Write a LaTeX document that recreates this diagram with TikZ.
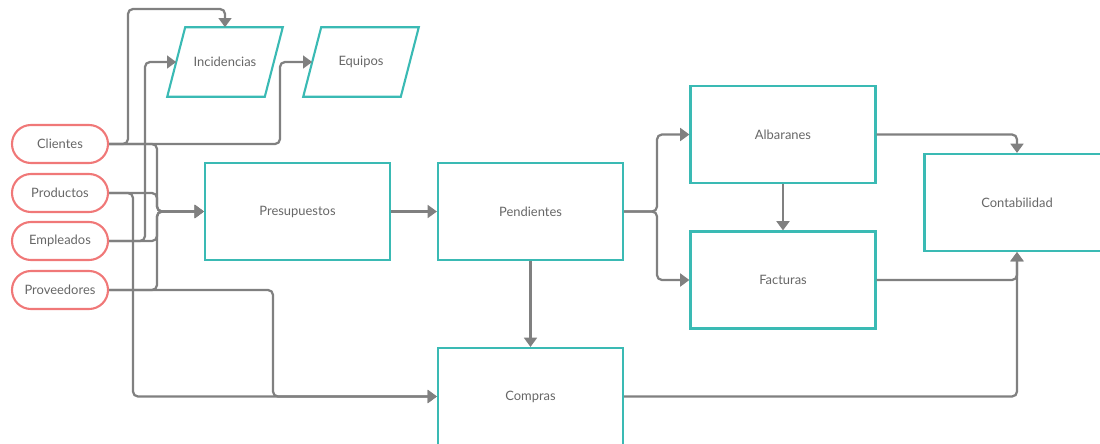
\documentclass[tikz,border=0pt]{standalone}
\usepackage{fontspec}
\setmainfont{Lato}
\usepackage{tikz}
\usetikzlibrary{shapes,arrows.meta,positioning,calc}
\definecolor{boxTeal}{RGB}{58, 186, 180}
\definecolor{pillRed}{RGB}{240, 120, 120}
\definecolor{lineGray}{RGB}{128, 128, 128}
\definecolor{textGray}{RGB}{102, 102, 102}

\begin{document}
\begin{tikzpicture}[x=0.025cm,y=-0.025cm,
                source/.style={draw=pillRed,line width=1.5pt,rounded corners=0.475cm,
                              minimum width=2.4cm,minimum height=0.95cm,inner sep=0pt},
                process/.style={draw=boxTeal,line width=1.5pt,
                              minimum width=4.625cm,minimum height=2.425cm,inner sep=0pt},
                datain/.style={minimum width=2.425cm,minimum height=1.725cm,inner sep=0pt},
                slanted/.style={draw=boxTeal,line width=1.5pt,line join=miter},
                link/.style={draw=lineGray,line width=1.6pt,rounded corners=3.5pt,
                              -{Triangle[length=0.23cm,width=0.32cm]}}
            ]
                \useasboundingbox (0,0) rectangle (1100,443);
                \begin{scope}[font=\fontsize{9.2}{11}\selectfont,text=textGray]
                % entradas
                \node[source] (cli) at (60,144) {Clientes};
                \node[source] (pro) at (60,193) {Productos};
                \node[source] (emp) at (60,241) {Empleados};
                \node[source] (prv) at (60,290) {Proveedores};
                % registros
                \node[datain] (inc) at (225,62) {Incidencias};
                \node[datain] (equ) at (361,62) {Equipos};
                % procesos
                \node[process] (pre) at (297.5,211.5) {Presupuestos};
                \node[process] (pen) at (530.5,211.5) {Pendientes};
                \node[process] (alb) at (783,134.5) {Albaranes};
                \node[process] (fac) at (783,280) {Facturas};
                \node[process] (con) at (1017,202.5) {Contabilidad};
                \node[process] (com) at (530.5,396.5) {Compras};
                \end{scope}
                % paralelogramos
                \foreach \reg in {inc,equ}
                    \draw[slanted] ($(\reg.north west)+(9,0)$) -- ($(\reg.north east)+(9,0)$)
                        -- ($(\reg.south east)+(-9,0)$) -- ($(\reg.south west)+(-9,0)$) -- cycle;
                % conexiones
                \draw[link] (cli.east) -| (128,9) -| (inc.north);
                \draw[link] (cli.east) -| (280,62) -- (equ.west);
                \draw[link] (emp.east) -| (145,62) -- (inc.west);
                \foreach \src in {cli,pro,emp,prv}
                    \draw[link] (\src.east) -| (157,211.5) -- (pre.west);
                \draw[link] (pro.east) -| (133,396.5) -- (com.west);
                \draw[link] (prv.east) -| (273,396.5) -- (com.west);
                \draw[link] (pre) -- (pen);
                \draw[link] (pen) -- (com);
                \draw[link] (pen.east) -| (657,134.5) -- (alb.west);
                \draw[link] (pen.east) -| (657,280) -- (fac.west);
                \draw[link] (alb) -- (fac);
                \draw[link] (alb.east) -| (con.north);
                \draw[link] (fac.east) -| (con.south);
                \draw[link] (com.east) -| (con.south);
            \end{tikzpicture}
\end{document}
